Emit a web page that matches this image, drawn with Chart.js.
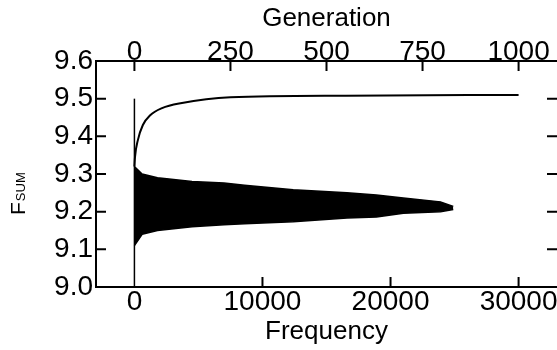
<!DOCTYPE html>
<html>
<head>
<meta charset="utf-8">
<script src="https://cdn.jsdelivr.net/npm/chart.js@4"></script>
<style>
  body { margin: 0; background: #fff; }
  #wrap { width: 557px; height: 350px; }
</style>
</head>
<body>
<div id="wrap"><canvas id="chart"></canvas></div>
<script>
// envelope of the oscillating trace, against frequency (bottom axis)
const freq = [0, 600, 1800, 4500, 7000, 8600, 12400, 16600, 18900, 21000, 23900, 24900];
const upper = [9.32, 9.30, 9.29, 9.28, 9.276, 9.27, 9.258, 9.25, 9.244, 9.236, 9.226, 9.214];
const lower = [9.11, 9.14, 9.15, 9.16, 9.165, 9.168, 9.173, 9.183, 9.186, 9.196, 9.20, 9.206];

// first spike at frequency 0
const spikeX = [0, 0];
const spikeY = [9.0, 9.5];

// F_SUM against generation (top axis)
const generation = [0, 1.5, 9, 22, 41, 72, 120, 250, 550, 1000];
const fsum = [9.32, 9.345, 9.39, 9.43, 9.456, 9.475, 9.488, 9.504, 9.508, 9.51];

const freqTicks = [0, 10000, 20000, 30000];
const genTicks = [0, 250, 500, 750, 1000];
const yTicks = [9.0, 9.1, 9.2, 9.3, 9.4, 9.5, 9.6];

const toPoints = (xs, ys) => xs.map((x, i) => ({ x: x, y: ys[i] }));

const font = { family: "'Liberation Sans', Arial, sans-serif", size: 28 };

function setTicks(values) {
  return (scale) => { scale.ticks = values.map((v) => ({ value: v })); };
}

// tick marks pointing into the plot, as in the original
const innerTicks = {
  id: "innerTicks",
  afterDraw(chart) {
    const ctx = chart.ctx;
    const a = chart.chartArea;
    const len = 10;
    ctx.save();
    ctx.strokeStyle = "#000";
    ctx.lineWidth = 2;
    ctx.beginPath();
    chart.scales.xTop.ticks.forEach((t) => {
      const px = chart.scales.xTop.getPixelForValue(t.value);
      ctx.moveTo(px, a.top); ctx.lineTo(px, a.top + len);
    });
    chart.scales.x.ticks.forEach((t) => {
      if (t.value === 0) return;
      const px = chart.scales.x.getPixelForValue(t.value);
      ctx.moveTo(px, a.bottom); ctx.lineTo(px, a.bottom - len);
    });
    chart.scales.y.ticks.forEach((t) => {
      if (t.value <= 9.0 || t.value >= 9.6) return;
      const py = chart.scales.y.getPixelForValue(t.value);
      ctx.moveTo(a.left, py); ctx.lineTo(a.left + len, py);
      ctx.moveTo(a.right, py); ctx.lineTo(a.right - len, py);
    });
    ctx.stroke();

    // y axis title: F with SUM subscript
    ctx.translate(25, 215);
    ctx.rotate(-Math.PI / 2);
    ctx.fillStyle = "#000";
    ctx.textBaseline = "alphabetic";
    ctx.font = "21px 'Liberation Sans', Arial, sans-serif";
    ctx.fillText("F", 0, 0);
    const w = ctx.measureText("F").width;
    ctx.font = "13px 'Liberation Sans', Arial, sans-serif";
    ctx.fillText("SUM", w + 1, 0);
    ctx.restore();
  },
};

new Chart(document.getElementById("chart"), {
  type: "line",
  data: {
    datasets: [
      {
        data: toPoints(freq, upper),
        xAxisID: "x", yAxisID: "y",
        borderColor: "#000", borderWidth: 1.5,
        backgroundColor: "#000",
        fill: "+1", pointRadius: 0, tension: 0,
      },
      {
        data: toPoints(freq, lower),
        xAxisID: "x", yAxisID: "y",
        borderColor: "#000", borderWidth: 1.5,
        fill: false, pointRadius: 0, tension: 0,
      },
      {
        data: toPoints(spikeX, spikeY),
        xAxisID: "x", yAxisID: "y",
        borderColor: "#000", borderWidth: 1.5,
        fill: false, pointRadius: 0,
      },
      {
        data: toPoints(generation, fsum),
        xAxisID: "xTop", yAxisID: "y",
        borderColor: "#000", borderWidth: 2,
        fill: false, pointRadius: 0,
        cubicInterpolationMode: "monotone",
      },
    ],
  },
  options: {
    responsive: true,
    maintainAspectRatio: false,
    animation: false,
    plugins: { legend: { display: false }, tooltip: { enabled: false } },
    layout: { padding: 0 },
    scales: {
      x: {
        type: "linear", position: "bottom", min: -3000, max: 33000,
        afterBuildTicks: setTicks(freqTicks),
        afterFit: (s) => { s.height = 63; },
        grid: { display: false, drawTicks: false },
        border: { display: true, color: "#000", width: 2 },
        ticks: { color: "#000", font: font, padding: -2, maxRotation: 0, autoSkip: false,
                 callback: (v) => String(v) },
        title: { display: true, text: "Frequency", color: "#000", font: { ...font, size: 26 }, padding: { top: 0, bottom: 3 } },
      },
      xTop: {
        type: "linear", position: "top", min: -100, max: 1100,
        afterBuildTicks: setTicks(genTicks),
        afterFit: (s) => { s.height = 61; },
        grid: { display: false, drawTicks: false },
        border: { display: true, color: "#000", width: 2 },
        ticks: { color: "#000", font: font, padding: -8, maxRotation: 0, autoSkip: false,
                 callback: (v) => String(v) },
        title: { display: true, text: "Generation", color: "#000", font: { ...font, size: 26 }, padding: { top: 3, bottom: 0 } },
      },
      y: {
        type: "linear", position: "left", min: 9.0, max: 9.6,
        afterBuildTicks: setTicks(yTicks),
        afterFit: (s) => { s.width = 96; },
        grid: { display: false, drawTicks: false },
        border: { display: true, color: "#000", width: 2 },
        ticks: { color: "#000", font: font, padding: 3, callback: (v) => v.toFixed(1) },
      },
      yRight: {
        type: "linear", position: "right", min: 9.0, max: 9.6,
        afterBuildTicks: setTicks(yTicks),
        afterFit: (s) => { s.width = 0; },
        grid: { display: false, drawTicks: false },
        border: { display: false },
        ticks: { display: false },
      },
    },
  },
  plugins: [innerTicks],
});
</script>
</body>
</html>
